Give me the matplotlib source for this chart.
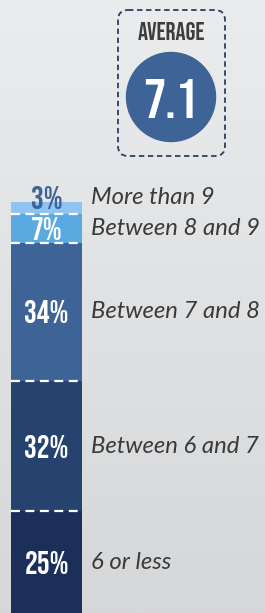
import numpy as np
import matplotlib
matplotlib.use("Agg")
import matplotlib.pyplot as plt
from matplotlib.patches import FancyBboxPatch, Circle
import matplotlib.transforms as mtrans

# data
categories = ["6 or less", "Between 6 and 7", "Between 7 and 8", "Between 8 and 9", "More than 9"]
shares = [25, 32, 34, 7, 3]
seg_colours = ["#1b2f59", "#26426f", "#3e6396", "#5aa9e0", "#8fc3f1"]
average = 7.1

W, H = 265, 613
cond = dict(family=["Bebas Neue", "Oswald", "DejaVu Sans"])
ital = dict(family=["Lato", "DejaVu Sans"], style="italic")

fig = plt.figure(figsize=(W / 100, H / 100), dpi=100)

# background gradient
bg = fig.add_axes([0, 0, 1, 1])
grad = np.linspace(0, 1, 256).reshape(-1, 1)
bg.imshow(grad, aspect="auto", extent=[0, W, H, 0],
          cmap=matplotlib.colors.LinearSegmentedColormap.from_list("g", ["#ebecee", "#d6d7d9"]))
bg.set_xlim(0, W)
bg.set_ylim(H, 0)
bg.axis("off")

# average box
box = FancyBboxPatch((118, 10), 107, 146, boxstyle="round,pad=0,rounding_size=10",
                     fill=False, ec="#2b3f63", lw=1.3, ls=(0, (3, 2)))
bg.add_patch(box)
bg.text(171.5, 31, "AVERAGE", ha="center", va="center", fontsize=18, color="#3d3d3d", **cond)
bg.add_patch(Circle((171, 97), 44.5, color="#3e6396"))
bg.text(171, 98, f"{average}", ha="center", va="center", fontsize=40, color="white", **cond)

# stacked bar
bar_top = 202
ax = fig.add_axes([11 / W, 0, 71 / W, (H - bar_top) / H])
bottoms = np.concatenate([[0], np.cumsum(shares)[:-1]])
ax.bar(0, shares, bottom=bottoms, width=1, color=seg_colours, align="center")
ax.set_xlim(-0.5, 0.5)
ax.set_ylim(0, sum(shares))
ax.axis("off")

for b in bottoms[1:]:
    ax.axhline(b, color="white", lw=1.6, ls=(0, (4, 2.5)))

lab_tr = mtrans.blended_transform_factory(fig.transFigure, ax.transData)
px = 1 / ((H - bar_top) / sum(shares))
for cat, val, b in zip(categories, shares, bottoms):
    y = b + val / 2
    col = "white"
    if val < 5:
        y = b + val / 2 + 11 * px
        col = "#3e6396"
    ax.text(0, y, f"{val}%", ha="center", va="center", fontsize=23, color=col,
            clip_on=False, **cond)
    ax.text(91 / W, y, cat, transform=lab_tr, ha="left", va="center", fontsize=17.2,
            color="#3a3a3a", clip_on=False, **ital)

fig.savefig("out.png", dpi=100)
